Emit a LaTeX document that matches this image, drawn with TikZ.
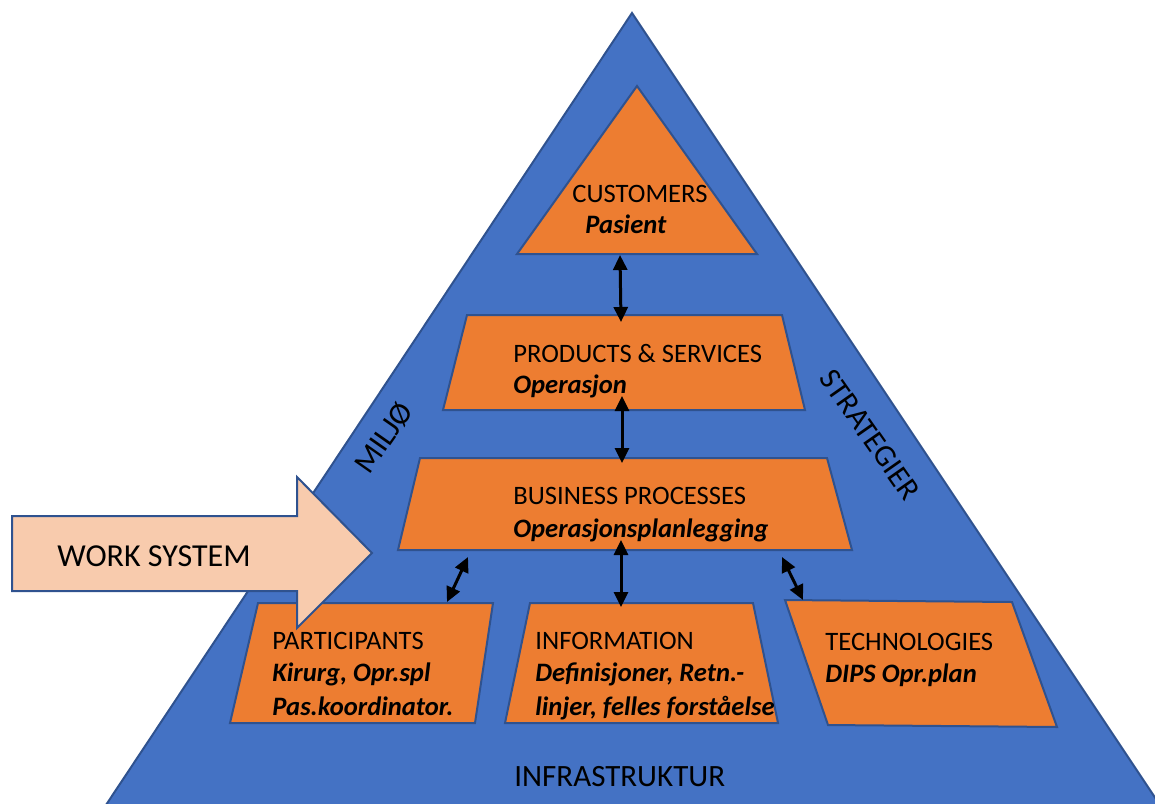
\documentclass[tikz,border=0pt]{standalone}
\usepackage{fontspec}
\setmainfont{Carlito}
\usetikzlibrary{arrows.meta}
\definecolor{pyrblue}{HTML}{4472C4}
\definecolor{edgeblue}{HTML}{2F528F}
\definecolor{boxorange}{HTML}{ED7D31}
\definecolor{peach}{HTML}{F8CBAD}
\begin{document}
\begin{tikzpicture}[x=0.5pt,y=-0.5pt,
  layer/.style={fill=boxorange,draw=edgeblue,line width=1pt,line join=miter},
  head/.style={font=\fontsize{13.3}{16.5}\selectfont,anchor=base west,inner sep=0pt},
  sub/.style={font=\fontsize{13.3}{16.5}\selectfont\bfseries\itshape,anchor=base west,inner sep=0pt},
  link/.style={{Triangle[length=7.5pt,width=7pt]}-{Triangle[length=7.5pt,width=7pt]},line width=1.5pt},
  side/.style={font=\fontsize{15.5}{18}\selectfont,inner sep=0pt}]
\useasboundingbox (0,0) rectangle (1155,803);

% outer pyramid
\begin{scope}
  \clip (0,0) rectangle (1155,803);
  \draw[fill=pyrblue,draw=edgeblue,line width=1pt] (632,13) -- (1170,820) -- (96,820) -- cycle;
\end{scope}

% layers of the work system
\draw[layer] (637,86) -- (757,254) -- (517,254) -- cycle;
\draw[layer] (467,315) -- (782,315) -- (805,410) -- (443,410) -- cycle;
\draw[layer] (420,458) -- (827,458) -- (852,550) -- (398,550) -- cycle;
\draw[layer] (258,603) -- (493,603) -- (475,723) -- (230,723) -- cycle;
\draw[layer] (530,603) -- (753,603) -- (778,723) -- (505,723) -- cycle;
\draw[layer] (785,600) -- (1012,602) -- (1057,727) -- (828,725) -- cycle;

% connector end points
\coordinate (cusB) at (620,255);
\coordinate (psTop) at (621,322);
\coordinate (psBot) at (622,396);
\coordinate (bpTop) at (622,463);
\coordinate (bpBot) at (621,540);
\coordinate (inTop) at (621,607);
\coordinate (bpL) at (468,557);
\coordinate (paTop) at (447,602);
\coordinate (bpR) at (782,557);
\coordinate (teTop) at (803,600);

\draw[link] (cusB) -- (psTop);
\draw[link] (psBot) -- (bpTop);
\draw[link] (bpBot) -- (inTop);
\draw[link] (bpL) -- (paTop);
\draw[link] (bpR) -- (teTop);

% work system arrow
\draw[fill=peach,draw=edgeblue,line width=1pt,line join=miter]
  (12,516) -- (297,516) -- (297,477) -- (372,553) -- (297,628) -- (297,591) -- (12,591) -- cycle;

% labels
\node[head] (cusT) at (572,202) {CUSTOMERS};
\node[sub]  (cusS) at (585,233) {Pasient};
\node[head] (psT) at (513,362) {PRODUCTS \& SERVICES};
\node[sub]  (psS) at (513,393) {Operasjon};
\node[head] (bpT) at (513,504) {BUSINESS PROCESSES};
\node[sub]  (bpS) at (513,537) {Operasjonsplanlegging};
\node[head] (paT) at (272,649) {PARTICIPANTS};
\node[sub]  (paS1) at (272,681) {Kirurg, Opr.spl};
\node[sub]  (paS2) at (272,715) {Pas.koordinator.};
\node[head] (inT) at (535,649) {INFORMATION};
\node[sub]  (inS1) at (535,681) {Definisjoner, Retn.-};
\node[sub]  (inS2) at (535,715) {linjer, felles forståelse};
\node[head] (teT) at (825,650) {TECHNOLOGIES};
\node[sub]  (teS) at (825,682) {DIPS Opr.plan};
\node[font=\fontsize{16}{19}\selectfont,anchor=base west,inner sep=0pt] (ws) at (57,566) {WORK SYSTEM};
\node[side,anchor=base west] (infra) at (514,786) {INFRASTRUKTUR};
\node[side,rotate=55] (milj) at (384,438) {MILJØ};
\node[side,rotate=-55] (strat) at (870,435) {STRATEGIER};
\end{tikzpicture}
\end{document}
